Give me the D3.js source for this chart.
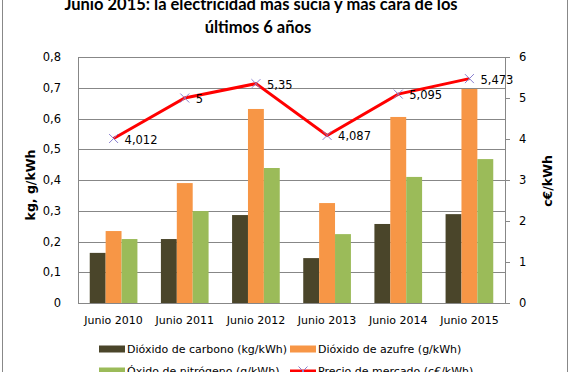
<!DOCTYPE html>
<html>
<head>
<meta charset="utf-8">
<script src="https://cdn.jsdelivr.net/npm/d3@7"></script>
<style>
  body { margin: 0; background: #fff; }
  text { font-family: "DejaVu Sans", sans-serif; }
</style>
</head>
<body>
<svg class="MainSvg"></svg>
<script>
    // datos
    var categories = ["Junio 2010", "Junio 2011", "Junio 2012", "Junio 2013", "Junio 2014", "Junio 2015"];
    var co2 = [0.163, 0.208, 0.286, 0.146, 0.257, 0.289];
    var so2 = [0.234, 0.390, 0.631, 0.325, 0.605, 0.696];
    var nox = [0.208, 0.299, 0.439, 0.224, 0.410, 0.468];
    var precio = [4.012, 5, 5.35, 4.087, 5.095, 5.473];
    var precioLabels = ["4,012", "5", "5,35", "4,087", "5,095", "5,473"];
    var leftTicks = [0, 0.1, 0.2, 0.3, 0.4, 0.5, 0.6, 0.7, 0.8];
    var rightTicks = [0, 1, 2, 3, 4, 5, 6];
    var seriesNames = ["Dióxido de carbono (kg/kWh)", "Dióxido de azufre (g/kWh)",
        "Óxido de nitrógeno (g/kWh)", "Precio de mercado (c€/kWh)"];
    var colors = ["#4a452a", "#f79646", "#9bbb59"];

    var W = 571, H = 372;
    var margin = { top: 57, right: 66, bottom: 69, left: 78 };
    var width = W - margin.left - margin.right,
        height = H - margin.top - margin.bottom;

    var svg = d3.select(".MainSvg").attr("width", W).attr("height", H);

    // marco exterior
    svg.append("rect").attr("x", 2.5).attr("y", -5).attr("width", 565).attr("height", H + 10)
        .attr("fill", "none").attr("stroke", "#888").attr("stroke-width", 1);

    svg.append("text").attr("x", 261).attr("y", 10).attr("text-anchor", "middle")
        .style("font-family", "Lato").style("font-weight", "bold").style("font-size", "16.5px")
        .text("Junio 2015: la electricidad más sucia y más cara de los");
    svg.append("text").attr("x", 258).attr("y", 33).attr("text-anchor", "middle")
        .style("font-family", "Lato").style("font-weight", "bold").style("font-size", "16.5px")
        .text("últimos 6 años");

    var g = svg.append("g").attr("transform", "translate(" + margin.left + "," + margin.top + ")");

    var x0 = d3.scaleBand().domain(categories).range([0, width]).paddingInner(0.33).paddingOuter(0.165);
    var x1 = d3.scaleBand().domain([0, 1, 2]).range([0, x0.bandwidth()]);
    var yL = d3.scaleLinear().domain([0, 0.8]).range([height, 0]);
    var yR = d3.scaleLinear().domain([0, 6]).range([height, 0]);

    // líneas de división
    g.append("g").selectAll("line").data(leftTicks).enter().append("line")
        .attr("x1", 0).attr("x2", width)
        .attr("y1", function (d) { return Math.round(yL(d)) + 0.5; })
        .attr("y2", function (d) { return Math.round(yL(d)) + 0.5; })
        .attr("stroke", "#878787").attr("stroke-width", 1);

    var yAxisL = d3.axisLeft(yL).tickValues(leftTicks).tickSize(0).tickPadding(17)
        .tickFormat(function (d) { return d3.format(".1f")(d).replace(".", ","); });
    var ga = g.append("g").call(yAxisL);
    ga.select(".domain").attr("stroke", "#878787");
    ga.selectAll("text").style("font-size", "11.5px").style("font-family", "DejaVu Sans").attr("fill", "#000");
    // el cero va sin decimales
    ga.selectAll("text").filter(function (d) { return d === 0; }).text("0");

    var yAxisR = d3.axisRight(yR).tickValues(rightTicks).tickSize(5).tickPadding(9).tickFormat(d3.format("d"));
    var gr = g.append("g").attr("transform", "translate(" + width + ",0)").call(yAxisR);
    gr.select(".domain").attr("stroke", "#878787");
    gr.selectAll("line").attr("stroke", "#878787");
    gr.selectAll("text").style("font-size", "11.5px").style("font-family", "DejaVu Sans").attr("fill", "#000");

    var xAxis = d3.axisBottom(x0).tickSize(0).tickPadding(13);
    var gx = g.append("g").attr("transform", "translate(0," + height + ")").call(xAxis);
    gx.select(".domain").attr("stroke", "#878787");
    gx.selectAll("text").style("font-size", "11px").style("font-family", "DejaVu Sans").attr("fill", "#000");

    // barras
    var series = [co2, so2, nox];
    series.forEach(function (vals, si) {
        g.append("g").selectAll("rect").data(vals).enter().append("rect")
            .attr("x", function (d, i) { return x0(categories[i]) + x1(si); })
            .attr("y", function (d) { return yL(d); })
            .attr("width", x1.bandwidth())
            .attr("height", function (d) { return height - yL(d); })
            .attr("fill", colors[si]);
    });

    // línea de precio
    var cx = function (d, i) { return x0(categories[i]) + x0.bandwidth() / 2; };
    var line = d3.line().x(cx).y(function (d) { return yR(d); });
    g.append("path").datum(precio).attr("d", line)
        .attr("fill", "none").attr("stroke", "#ff0000").attr("stroke-width", 3).attr("stroke-linejoin", "miter");

    g.append("g").selectAll("path").data(precio).enter().append("path")
        .attr("transform", function (d, i) { return "translate(" + cx(d, i) + "," + yR(d) + ")"; })
        .attr("d", "M-4.5,-4.5L4.5,4.5M-4.5,4.5L4.5,-4.5")
        .attr("stroke", "#8a7fd0").attr("stroke-width", 1).attr("fill", "none");

    g.append("g").selectAll("text").data(precio).enter().append("text")
        .attr("x", function (d, i) { return cx(d, i) + 11; })
        .attr("y", function (d) { return yR(d) + 5; })
        .style("font-size", "11.5px")
        .text(function (d, i) { return precioLabels[i]; });

    // títulos de ejes
    svg.append("text").attr("transform", "translate(35,185) rotate(-90)").attr("text-anchor", "middle")
        .style("font-size", "12.5px").style("font-weight", "bold").text("kg, g/kWh");
    svg.append("text").attr("transform", "translate(552,181) rotate(-90)").attr("text-anchor", "middle")
        .style("font-size", "12.5px").style("font-weight", "bold").text("c€/kWh");

    // leyenda
    var legPos = [[99, 349], [290, 349], [99, 371], [290, 371]];
    seriesNames.forEach(function (name, i) {
        var lg = svg.append("g").attr("transform", "translate(" + legPos[i][0] + "," + legPos[i][1] + ")");
        if (i < 3) {
            lg.append("rect").attr("x", 0).attr("y", -3.5).attr("width", 26).attr("height", 7).attr("fill", colors[i]);
        } else {
            lg.append("line").attr("x1", 0).attr("x2", 26).attr("y1", 0).attr("y2", 0)
                .attr("stroke", "#ff0000").attr("stroke-width", 3);
            lg.append("path").attr("d", "M8.5,-4.5L17.5,4.5M8.5,4.5L17.5,-4.5")
                .attr("stroke", "#8a7fd0").attr("stroke-width", 1);
        }
        lg.append("text").attr("x", 28).attr("y", 4).style("font-size", "11px").text(name);
    });
</script>
</body>
</html>
